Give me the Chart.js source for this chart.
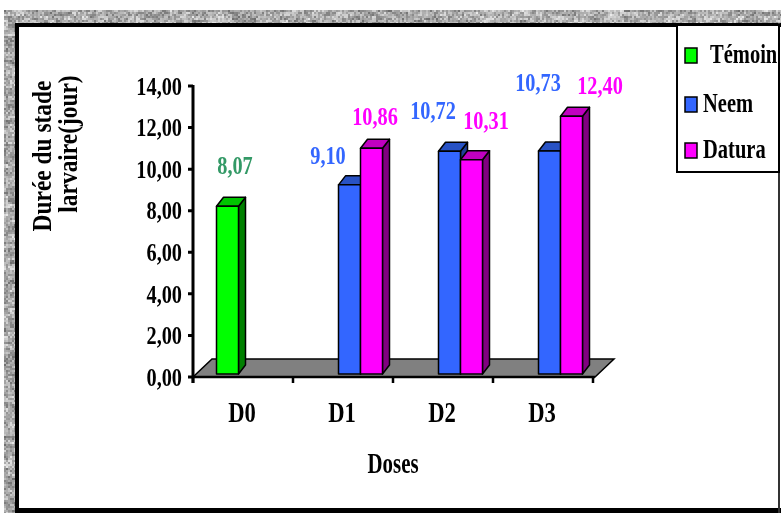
<!DOCTYPE html>
<html>
<head>
<meta charset="utf-8">
<script src="https://cdn.jsdelivr.net/npm/chart.js@4.4.1/dist/chart.umd.min.js"></script>
<style>
  html, body { margin: 0; padding: 0; background: #fff; }
  canvas { display: block; }
</style>
</head>
<body>
<canvas id="chart1" width="781" height="513"></canvas>
<script>
// Durée du stade larvaire (jours) selon la dose
const doses = ['D0', 'D1', 'D2', 'D3'];
const seriesNames = ['Témoin', 'Neem', 'Datura'];
const temoin = [8.07, null, null, null];
const neem = [null, 9.10, 10.72, 10.73];
const datura = [null, 10.86, 10.31, 12.40];
const yTicks = [0, 2, 4, 6, 8, 10, 12, 14];

// front / top / side shades of each 3D bar, plus value label colour
const shades = [
    { front: '#00FF00', top: '#00C400', side: '#008000', label: '#339966' },
    { front: '#3366FF', top: '#2852C4', side: '#1F3F99', label: '#3366FF' },
    { front: '#FF00FF', top: '#C000C0', side: '#800080', label: '#FF00FF' }
];

// where each value label sits relative to the top of its bar
const labelShift = [
    [[14, -42], null, null, null],
    [null, [-15, -31], [-10, -42], [-5, -70]],
    [null, [10, -33], [21, -40], [35, -32]]
];

const SERIF = '"Liberation Serif", "Times New Roman", serif';
const DEPTH = { dx: 7, dy: -9 };      // bar depth
const FLOOR = { dx: 19, dy: -18 };    // floor depth
const SHIFT = { dx: 6.5, dy: -3 };    // bars stand mid-way on the floor

function fmt(v) {
    return v.toFixed(2).replace('.', ',');
}

// narrow bold serif text
function text(ctx, s, x, y, o) {
    ctx.save();
    ctx.translate(x, y);
    if (o.rot) ctx.rotate(o.rot);
    ctx.scale(o.sx || 0.78, o.sy || 1);
    ctx.font = 'bold ' + o.size + 'px ' + SERIF;
    ctx.fillStyle = o.color || '#000';
    ctx.textAlign = o.align || 'center';
    ctx.textBaseline = o.base || 'middle';
    ctx.fillText(s, 0, 0);
    ctx.restore();
}

function poly(ctx, pts, fill) {
    ctx.beginPath();
    ctx.moveTo(pts[0][0], pts[0][1]);
    for (let i = 1; i < pts.length; i++) ctx.lineTo(pts[i][0], pts[i][1]);
    ctx.closePath();
    ctx.fillStyle = fill;
    ctx.fill();
    ctx.stroke();
}

function box3d(ctx, l, r, t, b, c) {
    const dx = DEPTH.dx, dy = DEPTH.dy;
    ctx.lineWidth = 1.5;
    ctx.strokeStyle = '#000';
    ctx.lineJoin = 'round';
    poly(ctx, [[r, b], [r + dx, b + dy], [r + dx, t + dy], [r, t]], c.side);
    poly(ctx, [[l, t], [l + dx, t + dy], [r + dx, t + dy], [r, t]], c.top);
    poly(ctx, [[l, t], [r, t], [r, b], [l, b]], c.front);
}

// granite-like grey strip round the frame
function noise(i, j) {
    const s = Math.sin(i * 12.9898 + j * 78.233) * 43758.5453;
    return s - Math.floor(s);
}

function texture(ctx, x0, y0, x1, y1) {
    for (let y = y0; y < y1; y += 2) {
        for (let x = x0; x < x1; x += 2) {
            const n = 0.6 * noise(x >> 1, y >> 1) + 0.4 * noise(x >> 3, (y >> 2) + 50);
            const g = Math.round(105 + n * 130);
            ctx.fillStyle = 'rgb(' + g + ',' + g + ',' + g + ')';
            ctx.fillRect(x, y, 2, 2);
        }
    }
}

const backdrop = {
    id: 'backdrop',
    beforeDraw(chart) {
        const ctx = chart.ctx;
        ctx.save();
        ctx.fillStyle = '#fff';
        ctx.fillRect(0, 0, chart.width, chart.height);
        texture(ctx, 6, 10, chart.width, 24);
        texture(ctx, 4, 10, 16, chart.height);
        ctx.fillStyle = '#000';
        ctx.fillRect(15, 23, chart.width - 15, 4);
        ctx.fillRect(15, 23, 4, chart.height - 23);
        ctx.fillRect(15, 508, chart.width - 15, 5);
        ctx.fillStyle = '#333';
        ctx.fillRect(778, 23, 2, chart.height - 23);
        ctx.restore();
    }
};

const floorAndAxes = {
    id: 'floorAndAxes',
    beforeDatasetsDraw(chart) {
        const ctx = chart.ctx;
        const xs = chart.scales.x, ys = chart.scales.y;
        const y0 = ys.getPixelForValue(0);
        const l = xs.left, r = xs.right + 2;
        ctx.save();
        ctx.lineWidth = 1.5;
        ctx.strokeStyle = '#000';
        poly(ctx, [[l, y0], [r, y0], [r + FLOOR.dx, y0 + FLOOR.dy], [l + FLOOR.dx, y0 + FLOOR.dy]], '#808080');

        // value axis
        ctx.lineWidth = 3;
        ctx.beginPath();
        ctx.moveTo(l, ys.getPixelForValue(14) - 1);
        ctx.lineTo(l, y0 + 6);
        yTicks.forEach(v => {
            const py = ys.getPixelForValue(v);
            ctx.moveTo(l - 5, py);
            ctx.lineTo(l, py);
        });
        ctx.stroke();

        // category axis
        ctx.lineWidth = 2.5;
        ctx.beginPath();
        ctx.moveTo(l, y0);
        ctx.lineTo(r, y0);
        const step = (xs.right - xs.left) / doses.length;
        for (let i = 0; i <= doses.length; i++) {
            const px = xs.left + i * step;
            ctx.moveTo(px, y0);
            ctx.lineTo(px, y0 + 6);
        }
        ctx.stroke();

        yTicks.forEach(v => {
            text(ctx, fmt(v), l - 11, ys.getPixelForValue(v) + 2,
                { size: 26, align: 'right' });
        });
        doses.forEach((d, i) => {
            text(ctx, d, xs.getPixelForValue(i) - 1, 422,
                { size: 29, base: 'alphabetic' });
        });
        text(ctx, 'Doses', (xs.left + xs.right) / 2, 473,
            { size: 29, base: 'alphabetic', sx: 0.72 });

        text(ctx, 'Durée du stade', 51, 156,
            { size: 30, rot: -Math.PI / 2, sy: 0.92, base: 'alphabetic' });
        text(ctx, 'larvaire(jour)', 77, 144,
            { size: 30, rot: -Math.PI / 2, sy: 0.92, base: 'alphabetic' });
        ctx.restore();
    },
    beforeDatasetDraw() {
        return false;
    },
    afterDatasetsDraw(chart) {
        const ctx = chart.ctx;
        ctx.save();
        doses.forEach((d, i) => {
            chart.data.datasets.forEach((ds, k) => {
                const v = ds.data[i];
                if (v == null) return;
                const el = chart.getDatasetMeta(k).data[i];
                const p = el.getProps(['x', 'y', 'base', 'width'], true);
                const l = p.x - p.width / 2 + SHIFT.dx;
                const r = p.x + p.width / 2 + SHIFT.dx;
                box3d(ctx, l, r, p.y + SHIFT.dy, p.base + SHIFT.dy, shades[k]);
            });
        });
        chart.data.datasets.forEach((ds, k) => {
            ds.data.forEach((v, i) => {
                if (v == null) return;
                const el = chart.getDatasetMeta(k).data[i];
                const s = labelShift[k][i];
                text(ctx, fmt(v), el.x + s[0], el.y + s[1],
                    { size: 26, color: shades[k].label });
            });
        });
        ctx.restore();
    },
    afterDraw(chart) {
        const ctx = chart.ctx;
        ctx.save();
        ctx.fillStyle = '#fff';
        ctx.fillRect(677, 25, 102, 147);
        ctx.lineWidth = 2;
        ctx.strokeStyle = '#000';
        ctx.strokeRect(677, 25, 102, 147);
        const rows = [55, 104, 150];
        chart.data.datasets.forEach((ds, k) => {
            ctx.lineWidth = 1.5;
            ctx.fillStyle = ds.backgroundColor;
            ctx.fillRect(685, rows[k] - 7, 12, 15);
            ctx.strokeRect(685, rows[k] - 7, 12, 15);
            text(ctx, ds.label, k === 0 ? 710 : 703, rows[k] + 1,
                { size: 27, align: 'left', sx: 0.76 });
        });
        ctx.restore();
    }
};

new Chart(document.getElementById('chart1'), {
    type: 'bar',
    data: {
        labels: doses,
        datasets: [
            { label: seriesNames[0], data: temoin, backgroundColor: shades[0].front },
            { label: seriesNames[1], data: neem, backgroundColor: shades[1].front },
            { label: seriesNames[2], data: datura, backgroundColor: shades[2].front }
        ]
    },
    options: {
        responsive: false,
        animation: false,
        devicePixelRatio: 1,
        datasets: {
            bar: { categoryPercentage: 0.66, barPercentage: 1.0 }
        },
        layout: {
            padding: { left: 193, right: 188, top: 86, bottom: 136 }
        },
        plugins: {
            legend: { display: false },
            tooltip: { enabled: false }
        },
        scales: {
            x: { display: false },
            y: { display: false, min: 0, max: 14, ticks: { stepSize: 2 } }
        }
    },
    plugins: [backdrop, floorAndAxes]
});
</script>
</body>
</html>
